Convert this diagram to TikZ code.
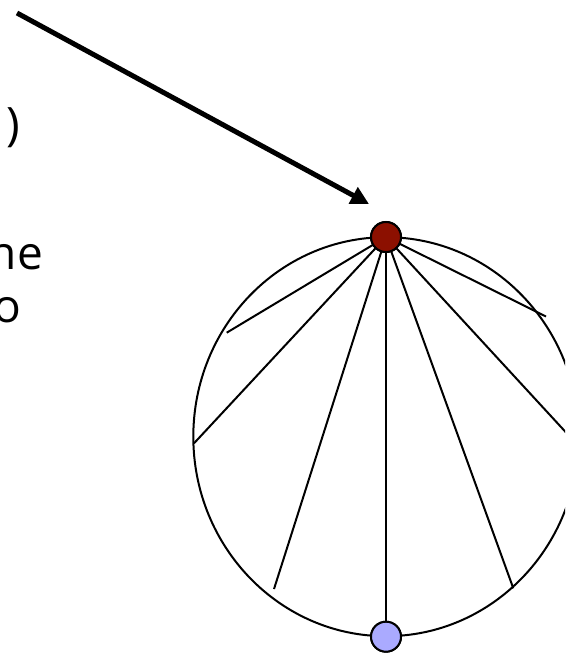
\documentclass[tikz,border=0pt]{standalone}
\usepackage{fontspec}
\setmainfont{Open Sans}
\usetikzlibrary{arrows.meta}
\definecolor{darkred}{RGB}{140,16,0}
\definecolor{lightblue}{RGB}{170,170,255}
\begin{document}
\begin{tikzpicture}[x=1pt,y=-1pt,
  line width=2pt,
  vertex/.style={circle,draw=black,line width=2pt,minimum size=30pt,inner sep=0pt},
  spoke/.style={draw=black,line width=2pt},
  frag/.style={inner sep=0pt,anchor=base east,font=\fontsize{46}{54}\selectfont},
  pointer/.style={line width=5pt,-{Triangle[length=18pt,width=18pt]}}]
\useasboundingbox (0,0) rectangle (565,653);
\clip (0,0) rectangle (565,653);
% text fragments
\node[frag] (t1) at (21,140) {)};
\node[frag] (t2) at (44,269) {ne};
\node[frag] (t3) at (22,322) {o};
% outline
\draw[line width=2pt] (386,436.7) ellipse [x radius=192.7, y radius=199.5];
% end points of spokes
\coordinate (e1) at (226.7,332.7);
\coordinate (e2) at (194,443.3);
\coordinate (e3) at (274,589);
\coordinate (e5) at (513.3,588.3);
\coordinate (e6) at (578.5,446);
\coordinate (e7) at (546,316.5);
\coordinate (as) at (17,13);
\coordinate (at) at (369,204);
\node[vertex,fill=darkred] (top) at (386,237) {};
\node[vertex,fill=lightblue] (bot) at (386,636.7) {};
\foreach \e in {e1,e2,e3,e5,e6,e7} \draw[spoke] (top.center) -- (\e);
\draw[spoke] (top.center) -- (bot.center);
\node[vertex,fill=darkred] at (top) {};
\node[vertex,fill=lightblue] at (bot) {};
\draw[pointer] (as) -- (at);
\end{tikzpicture}
\end{document}
